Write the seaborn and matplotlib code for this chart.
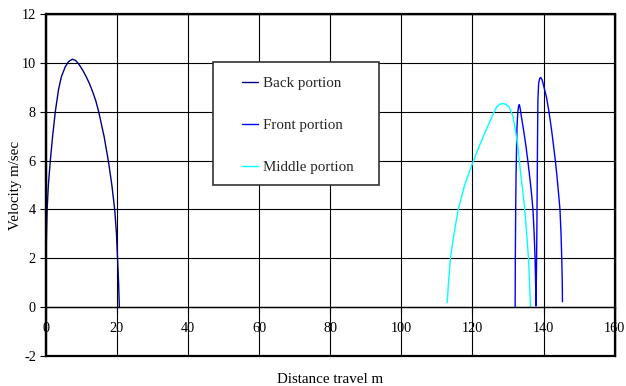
import matplotlib
matplotlib.use("Agg")
import matplotlib.pyplot as plt
from matplotlib.patches import Rectangle
from matplotlib.lines import Line2D
import pandas as pd
import seaborn as sns

# Series names and line colours
series_names = ["Back portion", "Front portion", "Middle portion"]
series_colors = ["#000080", "#0000FF", "#00FFFF"]

# Back portion: distance (m) and velocity (m/sec)
back_x = [0.0, 0.02, 0.1, 0.22, 0.4, 0.75, 1.3, 1.95, 2.7, 3.6, 4.4, 5.5, 6.4, 7.5,
          8.4, 9.2, 9.8, 10.6, 11.4, 12.3, 13.2, 14.1, 14.9, 16.4, 17.6, 18.6, 19.4,
          19.9, 20.2, 20.5, 20.7]
back_v = [0.0, 1.0, 2.0, 3.0, 4.0, 5.0, 6.0, 7.0, 8.0, 8.9, 9.43, 9.84, 10.05, 10.15,
          10.1, 9.97, 9.84, 9.65, 9.43, 9.15, 8.82, 8.44, 8.0, 7.0, 6.0, 5.0, 4.0,
          3.0, 2.0, 1.0, 0.0]

# Front portion
front_x = [132.0, 132.05, 132.15, 132.25, 132.5, 132.75, 133.0, 133.2, 133.45, 133.7,
           134.3, 135.0, 135.6, 136.2, 136.7, 137.0, 137.35, 137.6, 137.75, 137.85,
           137.95, 138.1, 138.2, 138.3, 138.4, 138.6, 138.9, 139.2, 139.6, 140.2,
           140.8, 141.5, 142.2, 142.8, 143.3, 143.8, 144.3, 144.6, 144.9, 145.1,
           145.25, 145.3]
front_v = [0.0, 2.0, 4.0, 5.4, 7.3, 8.0, 8.25, 8.29, 8.1, 7.85,
           7.31, 6.63, 5.95, 5.2, 4.5, 4.0, 3.0, 2.0, 1.0, 0.05,
           1.0, 3.0, 5.0, 7.0, 8.5, 9.15, 9.37, 9.4, 9.3, 8.95,
           8.6, 8.0, 7.3, 6.6, 6.0, 5.3, 4.5, 4.0, 3.0, 2.0,
           1.0, 0.22]

# Middle portion
middle_x = [112.9, 113.25, 113.8, 114.8, 116.0, 117.8, 120.0, 122.0, 124.0, 125.6,
            126.8, 127.6, 128.5, 129.4, 130.3, 131.3, 132.0, 132.7, 133.2, 133.6,
            134.2, 134.7, 135.25, 135.75, 136.05, 136.3]
middle_v = [0.18, 1.0, 2.0, 3.0, 4.0, 5.0, 5.88, 6.63, 7.31, 7.85,
            8.19, 8.3, 8.34, 8.3, 8.19, 7.85, 7.31, 6.63, 5.95, 5.4,
            4.7, 4.0, 3.0, 2.0, 1.0, 0.0]

x_ticks = [0, 20, 40, 60, 80, 100, 120, 140, 160]
y_ticks = [-2, 0, 2, 4, 6, 8, 10, 12]

df = pd.concat([
    pd.DataFrame({"distance": back_x, "velocity": back_v, "portion": series_names[0]}),
    pd.DataFrame({"distance": front_x, "velocity": front_v, "portion": series_names[1]}),
    pd.DataFrame({"distance": middle_x, "velocity": middle_v, "portion": series_names[2]}),
], ignore_index=True)

sns.set_style("white")
plt.rcParams["font.family"] = ["Liberation Serif", "DejaVu Serif"]
plt.rcParams["axes.unicode_minus"] = False

fig = plt.figure(figsize=(6.26, 3.86), dpi=100)
ax = fig.add_axes([0.073, 0.0777, 0.909, 0.886])

palette = dict(zip(series_names, series_colors))
sns.lineplot(data=df, x="distance", y="velocity", hue="portion", palette=palette,
             sort=False, estimator=None, linewidth=1.0, ax=ax, legend=False)

ax.set_xlim(x_ticks[0], x_ticks[-1])
ax.set_ylim(y_ticks[0], y_ticks[-1])
ax.set_xticks(x_ticks)
ax.set_yticks(y_ticks)
ax.set_xticklabels([str(t) for t in x_ticks])
ax.set_yticklabels([str(t) for t in y_ticks])

ax.grid(True, color="black", linewidth=0.8)
ax.set_axisbelow(True)

# Plot-area frame; the horizontal axis crosses at zero velocity
for side in ["top", "right", "left"]:
    ax.spines[side].set_visible(True)
    ax.spines[side].set_color("black")
    ax.spines[side].set_linewidth(1.0)
ax.spines["left"].set_linewidth(1.6)
ax.spines["bottom"].set_position(("data", 0))
ax.spines["bottom"].set_color("black")
ax.spines["bottom"].set_linewidth(1.0)
ax.patch.set_edgecolor("black")
ax.patch.set_linewidth(1.6)

ax.tick_params(axis="y", which="both", left=True, direction="out", length=4,
               width=0.8, color="black", pad=3, labelsize=10.3, labelcolor="black")
ax.tick_params(axis="x", which="both", bottom=True, direction="out", length=4,
               width=0.8, color="black", pad=7, labelsize=10.3, labelcolor="black")

ax.set_xlabel("Distance travel m", fontsize=10.8, color="black")
ax.set_ylabel("Velocity m/sec", fontsize=10.8, color="black")
ax.xaxis.set_label_coords(0.5, -0.05)
ax.yaxis.set_label_coords(-0.042, 0.5)

# Legend panel
ax.add_patch(Rectangle((0.2935, 0.5), 0.2928, 0.3605, transform=ax.transAxes,
                       facecolor="white", edgecolor="#333333", linewidth=1.2, zorder=4))
handles = [Line2D([], [], color=c, linewidth=1.0) for c in series_colors]
leg = ax.legend(handles, series_names, loc="center left", bbox_to_anchor=(0.3445, 0.6754),
                bbox_transform=ax.transAxes, frameon=False, borderpad=0, borderaxespad=0,
                handlelength=1.1, handletextpad=0.3, labelspacing=1.9, fontsize=10.8)
leg.set_zorder(5)

fig.savefig("out.png", dpi=100)
